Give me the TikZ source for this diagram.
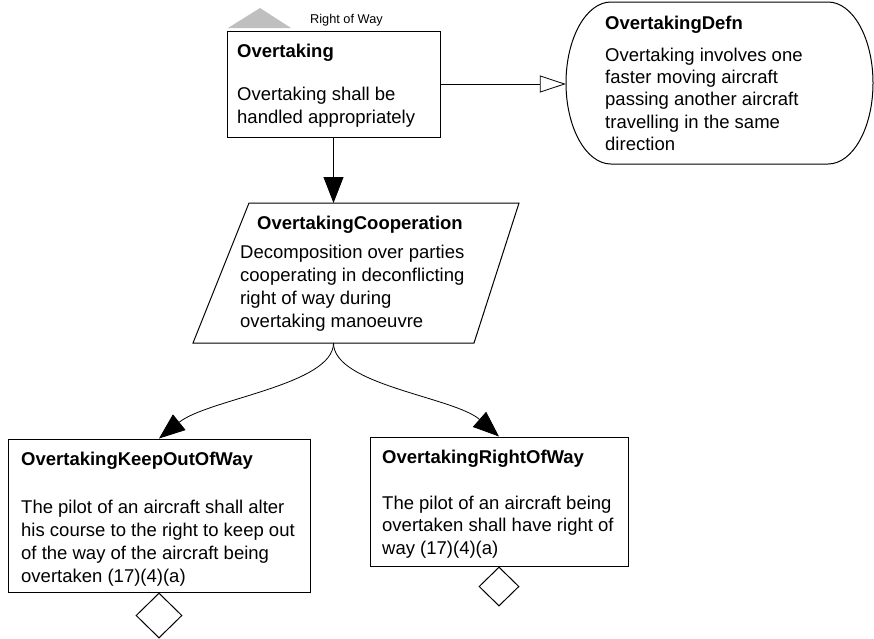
\documentclass[tikz,border=0pt]{standalone}
\usepackage{fontspec}
\setmainfont{Liberation Sans}
\usetikzlibrary{arrows.meta,shapes.geometric}

\tikzset{
  box/.style={draw=black, line width=1pt, fill=white, inner sep=0pt},
  ttl/.style={font=\bfseries\fontsize{18.5}{22.5}\selectfont, anchor=base west, inner sep=0pt},
  % multi-line bodies are placed by the baseline of their last line
  body/.style={font=\fontsize{18.5}{22.7}\selectfont, anchor=base west, inner sep=0pt, align=left},
  tag/.style={font=\fontsize{12.75}{15}\selectfont, anchor=base west, inner sep=0pt},
  conn/.style={line width=0.8pt, -{Triangle[length=26pt,width=20pt]}},
  defconn/.style={line width=0.8pt, -{Triangle[open,length=26pt,width=17pt,fill=white]}},
  pdiamond/.style={diamond, draw=black, line width=1pt, fill=white, inner sep=0pt, anchor=north},
}

\begin{document}
\begin{tikzpicture}[x=1pt,y=-1pt]
\useasboundingbox (0,0) rectangle (874,638);

% module marker above the top goal
\fill[gray!50] (228,28) -- (260,8) -- (291,28) -- cycle;
\node[tag] (rowtag) at (310,23.5) {Right of Way};

% top goal
\node[box, minimum width=213pt, minimum height=106pt] (ov) at (333.5,84) {};
\node[ttl] (ovt) at (237,57) {Overtaking};
\node[body] (ovb) at (237,123) {Overtaking shall be\\handled appropriately};

% context definition (stadium shape)
\node[minimum width=307pt, minimum height=162pt, inner sep=0pt] (defn) at (719.5,83) {};
\draw[line width=1pt, fill=white] (611,2) -- (828,2)
  arc[start angle=-90, end angle=90, x radius=45, y radius=81]
  -- (611,164)
  arc[start angle=90, end angle=270, x radius=45, y radius=81]
  -- cycle;
\node[ttl] (defnt) at (605,29) {OvertakingDefn};
\node[body, font=\fontsize{18.5}{22.3}\selectfont] (defnb) at (605,150.5)
  {Overtaking involves one\\faster moving aircraft\\passing another aircraft\\travelling in the same\\direction};

% strategy (parallelogram)
\draw[line width=1pt, fill=white] (249,203) coordinate (coopTL) -- (519,203)
  -- (474,343) -- (193,343) coordinate (coopBL) -- cycle;
\coordinate (coopTop) at (333.5,203);
\coordinate (coopBot) at (333.5,343);
\node[ttl] (coopt) at (257,229) {OvertakingCooperation};
\node[body] (coopb) at (240,327)
  {Decomposition over parties\\cooperating in deconflicting\\right of way during\\overtaking manoeuvre};

% sub-goals
\node[box, minimum width=302pt, minimum height=153pt] (keep) at (159,515.5) {};
\node[ttl] (keept) at (21,465) {OvertakingKeepOutOfWay};
\node[body] (keepb) at (21,582)
  {The pilot of an aircraft shall alter\\his course to the right to keep out\\of the way of the aircraft being\\overtaken (17)(4)(a)};

\node[box, minimum width=258pt, minimum height=129pt] (row) at (499,501.5) {};
\node[ttl] (rowt) at (382,463) {OvertakingRightOfWay};
\node[body] (rowb) at (382,554.5)
  {The pilot of an aircraft being\\overtaken shall have right of\\way (17)(4)(a)};

% undeveloped markers
\node[pdiamond, minimum width=46pt, minimum height=45pt] (keepd) at (keep.south) {};
\node[pdiamond, minimum width=40pt, minimum height=39pt] (rowd) at (row.south) {};

% connectors
\draw[defconn] (ov.east) -- (ov.east -| defn.west);
\draw[conn] (ov.south) -- (coopTop);
\draw[conn] (coopBot) .. controls (333.5,385) and (208,399) .. (keep.north);
\draw[conn] (coopBot) .. controls (333.5,385) and (454,397) .. (row.north);
\end{tikzpicture}
\end{document}
